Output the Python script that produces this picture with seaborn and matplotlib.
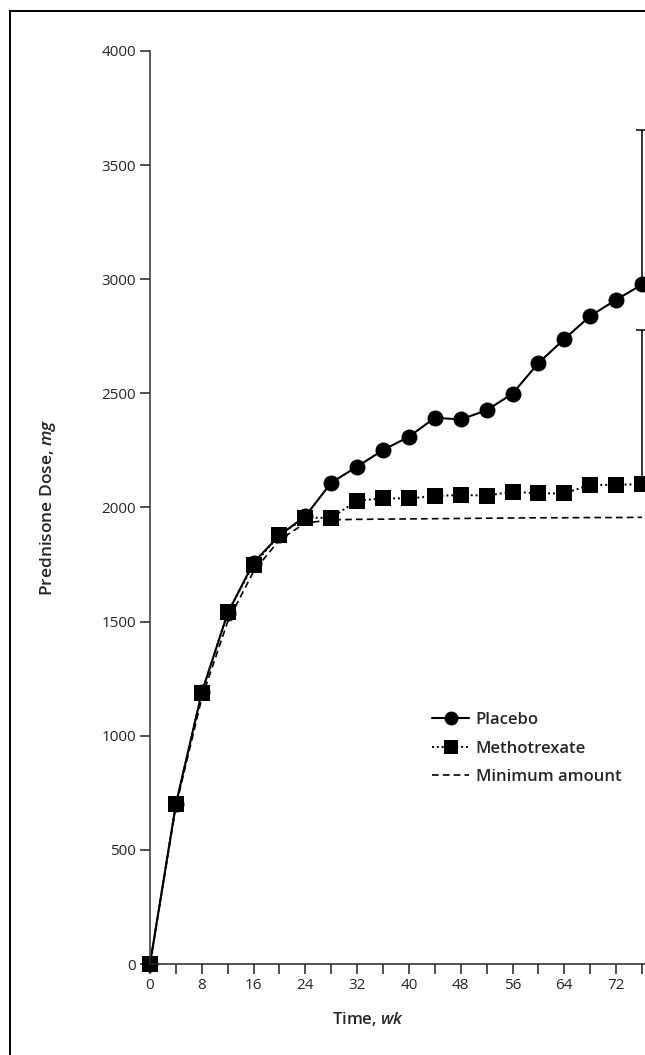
import numpy as np
import matplotlib
matplotlib.use("Agg")
import matplotlib.pyplot as plt
from matplotlib.patches import Rectangle
from matplotlib.ticker import MultipleLocator, FuncFormatter
import seaborn as sns

# data (cumulative prednisone dose, mg)
weeks = [0, 4, 8, 12, 16, 20, 24, 28, 32, 36, 40, 44, 48, 52, 56, 60, 64, 68, 72, 76]
placebo = [0, 700, 1190, 1537, 1759, 1878, 1962, 2109, 2179, 2252, 2310, 2393, 2386,
           2426, 2499, 2633, 2738, 2839, 2910, 2977]
methotrexate = [0, 700, 1188, 1541, 1749, 1880, 1955, 1955, 2030, 2040, 2040, 2050, 2055,
                2052, 2069, 2062, 2062, 2099, 2099, 2103]
minimum = [0, 690, 1165, 1500, 1720, 1858, 1932, 1946, 1948, 1949, 1950, 1951, 1952,
           1953, 1954, 1955, 1955, 1956, 1956, 1957]
# upper error bars at the last visit
err_week = [76]
err_placebo_top = 3653
err_mtx_top = 2776

sns.set_style("ticks")
plt.rcParams["font.family"] = ["Open Sans", "DejaVu Sans"]
plt.rcParams["mathtext.fontset"] = "custom"
plt.rcParams["mathtext.it"] = "Open Sans:italic:semibold"
plt.rcParams["mathtext.rm"] = "Open Sans:semibold"

fig = plt.figure(figsize=(6.45, 10.55), dpi=100)
# axes run past the right edge, the reference is a crop
ax = fig.add_axes([150 / 645, 1 - 964 / 1055, 621.5 / 645, 913 / 1055])

# frame around the panel (cropped at right and bottom)
fig.patches.append(Rectangle((10 / 645, -0.1), 1.2, 1.1 - 11 / 1055, transform=fig.transFigure,
                             fill=False, edgecolor="black", linewidth=1.4, clip_on=False))

sns.lineplot(x=weeks, y=minimum, ax=ax, color="black", linestyle=(0, (4, 2.5)),
             linewidth=1.2, label="Minimum amount")
sns.lineplot(x=weeks, y=methotrexate, ax=ax, color="black", linestyle=(0, (1, 1.5)),
             linewidth=1.4, marker="s", markersize=11, markeredgewidth=0,
             label="Methotrexate", clip_on=False)
sns.lineplot(x=weeks, y=placebo, ax=ax, color="black", linestyle="-", linewidth=1.5,
             marker="o", markersize=11.5, markeredgewidth=0, label="Placebo",
             clip_on=False)

ax.errorbar(err_week, [placebo[-1]], yerr=[[0], [err_placebo_top - placebo[-1]]],
            fmt="none", ecolor="black", elinewidth=1.1, capsize=4.5, capthick=1.1)
ax.errorbar(err_week, [methotrexate[-1]], yerr=[[0], [err_mtx_top - methotrexate[-1]]],
            fmt="none", ecolor="black", elinewidth=1.1, capsize=4.5, capthick=1.1)

ax.set_xlim(0, 96)
ax.set_ylim(0, 4000)
ax.xaxis.set_major_locator(MultipleLocator(4))
ax.xaxis.set_major_formatter(
    FuncFormatter(lambda v, p: f"{int(v)}" if int(v) % 8 == 0 and v <= 72 else ""))
ax.yaxis.set_major_locator(MultipleLocator(500))
ax.tick_params(axis="both", direction="out", length=7, width=1.1, labelsize=11, pad=3,
               color="#222222")
for s in ["top", "right"]:
    ax.spines[s].set_visible(False)
for s in ["left", "bottom"]:
    ax.spines[s].set_linewidth(1.1)
ax.spines["left"].set_color("#333333")

ax.set_xlabel(r"Time, $\mathit{wk}$", fontsize=12, fontweight="semibold")
ax.set_ylabel(r"Prednisone Dose, $\mathit{mg}$", fontsize=12.5, fontweight="semibold")
ax.xaxis.set_label_coords(218 / 621.5, -46 / 913)
ax.yaxis.set_label_coords(-92 / 621.5, 0.5)

handles, labels = ax.get_legend_handles_labels()
order = [2, 1, 0]
leg = ax.legend([handles[i] for i in order], [labels[i] for i in order],
                loc="upper left", bbox_to_anchor=(424 / 645, 1 - 704 / 1055),
                bbox_transform=fig.transFigure, frameon=False, handlelength=2.2,
                handletextpad=0.4, labelspacing=0.75, borderpad=0,
                prop={"size": 12, "weight": "semibold"})
for h in leg.legend_handles:
    h.set_markersize(10)

fig.savefig("out.png", dpi=100)
